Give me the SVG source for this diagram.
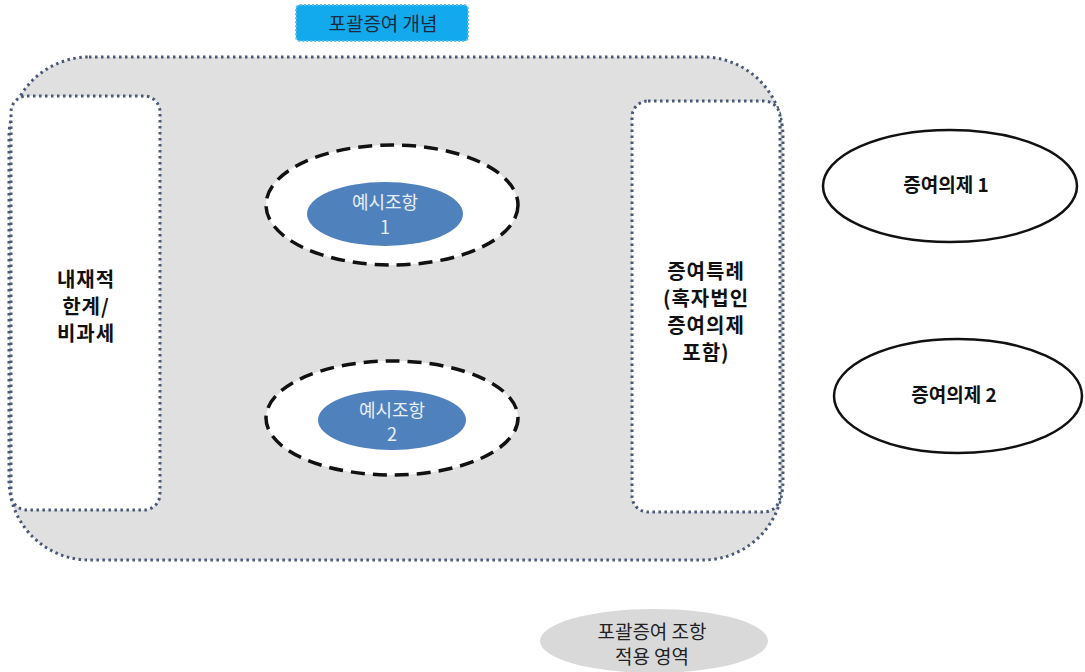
<svg xmlns="http://www.w3.org/2000/svg" width="1085" height="672" viewBox="0 0 1085 672">
<style>
.dot{stroke:#4a5878;stroke-width:3;stroke-dasharray:2.5 3.5}
.dash{fill:#fff;stroke:#111;stroke-width:3.5;stroke-dasharray:14 8}
.blue{fill:#4f81bd}
.t{font-family:"Noto Sans CJK KR","Noto Sans",sans-serif;text-anchor:middle;dominant-baseline:central}
.b{font-weight:bold;fill:#111}
.w{fill:#e8eef6;font-size:18px}
.big{font-size:20px;letter-spacing:1px}
</style>
<rect width="1085" height="672" fill="#fff"/>
<g id="area">
<rect x="9" y="57" width="774" height="503" rx="80" ry="80" fill="#e0e0e0" class="dot"/>
</g>
<g id="title">
<rect x="296" y="5" width="172" height="36" rx="4" fill="#12aaec" stroke="#5ac0f0" stroke-width="2" stroke-dasharray="2 2"/>
<text class="t" x="383" y="22" font-size="19" fill="#1a2a40">포괄증여 개념</text>
</g>
<g id="left">
<rect x="11" y="96" width="149" height="414" rx="16" fill="#fff" class="dot"/>
<text class="t b big"><tspan x="86" y="278">내재적</tspan><tspan x="86" y="305">한계/</tspan><tspan x="86" y="332">비과세</tspan></text>
</g>
<g id="right">
<rect x="632" y="101" width="148" height="411" rx="16" fill="#fff" class="dot"/>
<text class="t b big"><tspan x="706" y="270">증여특례</tspan><tspan x="706" y="297">(혹자법인</tspan><tspan x="706" y="324">증여의제</tspan><tspan x="706" y="351">포함)</tspan></text>
</g>
<g id="ex1">
<ellipse cx="392" cy="205" rx="126" ry="60" class="dash"/>
<ellipse cx="385" cy="214" rx="78" ry="32" class="blue"/>
<text class="t w"><tspan x="385" y="201">예시조항</tspan><tspan x="385" y="226">1</tspan></text>
</g>
<g id="ex2">
<ellipse cx="392" cy="418" rx="126" ry="57" class="dash"/>
<ellipse cx="392" cy="420" rx="74" ry="30" class="blue"/>
<text class="t w"><tspan x="392" y="409">예시조항</tspan><tspan x="392" y="433">2</tspan></text>
</g>
<g id="d1">
<ellipse cx="950" cy="186" rx="127" ry="56" fill="#fff" stroke="#111" stroke-width="2.5"/>
<text class="t b" x="946" y="183" font-size="19">증여의제 1</text>
</g>
<g id="d2">
<ellipse cx="958" cy="396" rx="124" ry="57" fill="#fff" stroke="#111" stroke-width="2.5"/>
<text class="t b" x="954" y="393" font-size="19">증여의제 2</text>
</g>
<g id="scope">
<ellipse cx="654" cy="641" rx="114" ry="32" fill="#d9d9d9"/>
<text class="t" font-size="19" fill="#222"><tspan x="652" y="630">포괄증여 조항</tspan><tspan x="652" y="655">적용 영역</tspan></text>
</g>
<g id="connectors"></g>
</svg>
